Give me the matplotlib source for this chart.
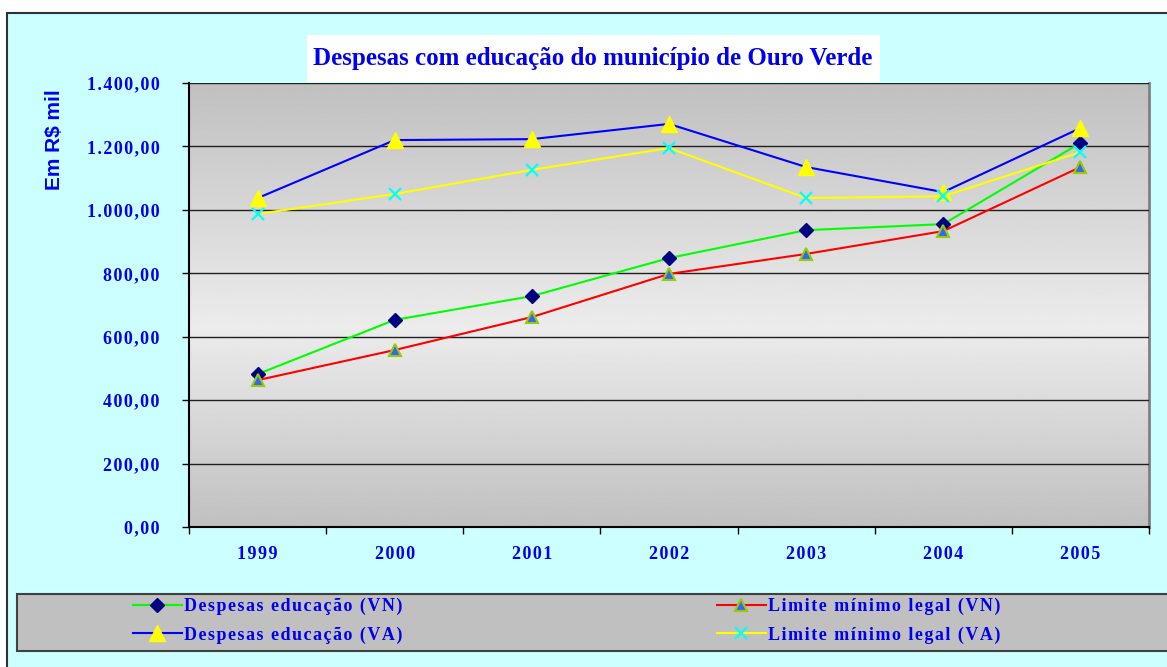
import numpy as np
import matplotlib
matplotlib.use("Agg")
import matplotlib.pyplot as plt
from matplotlib.patches import Rectangle


# -------------------------------------------------
# Dados (em R$ mil)
# -------------------------------------------------
anos = ["1999", "2000", "2001", "2002", "2003", "2004", "2005"]

despesas_vn = [482, 653, 728, 848, 936, 955, 1211]
limite_vn = [463, 558, 662, 798, 861, 933, 1135]
despesas_va = [1037, 1220, 1223, 1271, 1135, 1056, 1258]
limite_va = [987, 1050, 1126, 1195, 1037, 1043, 1182]

y_ticks = [0, 200, 400, 600, 800, 1000, 1200, 1400]

titulo = "Despesas com educação do município de Ouro Verde"
rotulo_y = "Em R$ mil"
legenda = [
    "Despesas educação (VN)",
    "Despesas educação (VA)",
    "Limite mínimo legal (VN)",
    "Limite mínimo legal (VA)",
]


# -------------------------------------------------
# Estilo
# -------------------------------------------------
AZUL_TEXTO = "#0000EE"
SERIF = ["Liberation Serif", "DejaVu Serif"]
HAIR = "\u200a"


def espacar(texto):
    # imita o espaçamento entre letras do Excel
    return HAIR.join(texto)


def formato_br(v):
    s = f"{v:,.2f}"
    return s.replace(",", "X").replace(".", ",").replace("X", ".")


W, H = 1167, 667
fig = plt.figure(figsize=(W / 100, H / 100), dpi=100)
fig.patch.set_facecolor("white")

# fundo ciano com borda
fig.patches.append(Rectangle((7 / W, -0.1), 1.2, (H - 13) / H + 0.1,
                             transform=fig.transFigure, facecolor="#CCFFFF",
                             edgecolor="#303030", linewidth=1.5, zorder=-2))

# caixa cinza da legenda
fig.patches.append(Rectangle((17 / W, 1 - 651 / H), 1.2, 57 / H,
                             transform=fig.transFigure, facecolor="#C0C0C0",
                             edgecolor="#404040", linewidth=1.5, zorder=-1))

# caixa branca do título
fig.patches.append(Rectangle((307 / W, 1 - 82 / H), 573 / W, 47 / H,
                             transform=fig.transFigure, facecolor="white",
                             edgecolor="none", zorder=-1))

ax = fig.add_axes([189 / W, 1 - 527 / H, 960 / W, 444 / H])
x = np.arange(len(anos))

# -------------------------------------------------
# Fundo em degradê
# -------------------------------------------------
pos = np.linspace(0, 1, 256)
tons = np.interp(pos, [0, 0.55, 1], [0.753, 0.925, 0.753])
ax.imshow(tons[:, None], extent=[-0.5, len(anos) - 0.5, 0, 1400],
          aspect="auto", cmap="gray", vmin=0, vmax=1, zorder=0)

# -------------------------------------------------
# Linhas
# -------------------------------------------------
l1, = ax.plot(x, despesas_vn, color="#00FF00", lw=1.5, marker="D",
              markersize=7, markerfacecolor="#000080",
              markeredgecolor="#000080", zorder=3)
l2, = ax.plot(x, despesas_va, color="#0000FF", lw=1.5, marker="^",
              markersize=11, markerfacecolor="#FFFF00",
              markeredgecolor="#FFFF00", zorder=3)
l3, = ax.plot(x, limite_vn, color="#FF0000", lw=1.5, marker="^",
              markersize=9, markerfacecolor="#3366FF",
              markeredgecolor="#99CC00", markeredgewidth=1.5, zorder=3)
l4, = ax.plot(x, limite_va, color="#FFFF00", lw=1.5, marker="x",
              markersize=9, markeredgecolor="#00FFFF",
              markeredgewidth=1.6, zorder=3)

# -------------------------------------------------
# Eixos
# -------------------------------------------------
ax.set_xlim(-0.5, len(anos) - 0.5)
ax.set_ylim(0, 1400)

ax.set_yticks(y_ticks)
ax.set_yticklabels([espacar(formato_br(v)) for v in y_ticks],
                   family=SERIF, fontweight="bold", fontsize=13,
                   color=AZUL_TEXTO)
ax.tick_params(axis="y", direction="out", length=5, width=1, pad=16)

ax.set_xticks(np.arange(-0.5, len(anos), 1.0))
ax.set_xticklabels([])
ax.set_xticks(x, minor=True)
ax.set_xticklabels([espacar(a) for a in anos], minor=True, family=SERIF,
                   fontweight="bold", fontsize=13, color=AZUL_TEXTO)
ax.tick_params(axis="x", which="major", direction="out", length=5, width=1)
ax.tick_params(axis="x", which="minor", length=0, pad=14)

ax.grid(axis="y", color="#202020", linewidth=1)
ax.set_axisbelow(False)
for g in ax.get_ygridlines():
    g.set_zorder(1)

ax.spines["top"].set_visible(False)
ax.spines["left"].set_linewidth(1.5)
ax.spines["bottom"].set_linewidth(1.5)
ax.spines["right"].set_color("#808080")
ax.spines["right"].set_linewidth(2)

# -------------------------------------------------
# Textos
# -------------------------------------------------
fig.text(593 / W, 1 - 59 / H, titulo, family=SERIF, fontweight="bold",
         fontsize=18, color=AZUL_TEXTO, ha="center", va="center")

fig.text(55 / W, 1 - 140 / H, rotulo_y, family=["Liberation Sans", "DejaVu Sans"],
         fontweight="bold", fontsize=15, color=AZUL_TEXTO, rotation=90,
         ha="center", va="center")

# -------------------------------------------------
# Legenda
# -------------------------------------------------
props = {"family": SERIF, "weight": "bold", "size": 13}
for handles, nomes, x0 in [([l1, l2], legenda[:2], 133),
                           ([l3, l4], legenda[2:], 717)]:
    leg = fig.legend(handles, [espacar(n) for n in nomes],
                     loc="upper left", bbox_to_anchor=(x0 / W, 1 - 598 / H),
                     frameon=False, prop=props, handlelength=2.7,
                     handletextpad=0.12, labelspacing=0.62, borderpad=0,
                     borderaxespad=0)
    for t in leg.get_texts():
        t.set_color(AZUL_TEXTO)

fig.savefig("out.png", dpi=100)
